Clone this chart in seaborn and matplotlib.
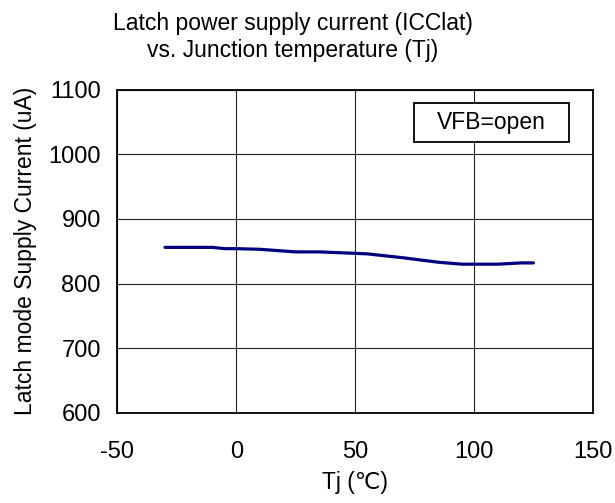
import numpy as np
import pandas as pd
import matplotlib
matplotlib.use("Agg")
import matplotlib.pyplot as plt
from matplotlib.patches import Rectangle
import seaborn as sns

# values
tj = [-30, -10, -5, 0, 10, 25, 35, 55, 65, 70, 85, 95, 110, 120, 125]
icc_lat = [856, 856, 854, 854, 853, 849, 849, 846, 842, 840, 833, 830, 830, 832, 832]

x_ticks = [-50, 0, 50, 100, 150]
y_ticks = [600, 700, 800, 900, 1000, 1100]

sns.set_style("white")
plt.rcParams['font.family'] = ['Liberation Sans', 'DejaVu Sans']
plt.rcParams['axes.unicode_minus'] = False
for key in ['text.color', 'axes.labelcolor', 'xtick.color', 'ytick.color']:
    plt.rcParams[key] = 'black'
FS = 16.5

df = pd.DataFrame({'Tj': tj, 'ICC': icc_lat})

fig = plt.figure(figsize=(6.15, 5.03), dpi=100)
ax = fig.add_axes([0.191, 0.179, 0.773, 0.643])

sns.lineplot(data=df, x='Tj', y='ICC', color='#000080', linewidth=2.3, ax=ax)

ax.set_xlim(-50, 150)
ax.set_ylim(600, 1100)
ax.set_xticks(x_ticks)
ax.set_yticks(y_ticks)
ax.tick_params(axis='x', length=0, pad=20, labelsize=17)
ax.tick_params(axis='y', length=0, pad=12, labelsize=17)
ax.grid(True, color='#222222', linewidth=0.8)
for s in ax.spines.values():
    s.set_color('black')
    s.set_linewidth(1.3)

ax.set_xlabel('Tj (\u2103)', fontsize=FS, labelpad=6)
ax.set_ylabel('Latch mode Supply Current (uA)', fontsize=FS, labelpad=8)

fig.text(0.476, 0.927, 'Latch power supply current (ICClat)\nvs. Junction temperature (Tj)',
         ha='center', va='center', fontsize=FS, linespacing=1.2)

# condition box
ax.add_patch(Rectangle((0.6236, 0.837), 0.326, 0.12, transform=ax.transAxes,
                       fill=True, facecolor='white', edgecolor='black', linewidth=1.3, zorder=5))
ax.text(0.7866, 0.897, 'VFB=open', transform=ax.transAxes, ha='center', va='center',
        fontsize=FS, zorder=6)

fig.savefig('out.png', dpi=100)
